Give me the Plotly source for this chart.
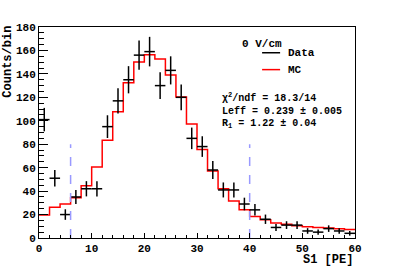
import plotly.graph_objects as go

# ---- data ----
bin_edges = list(range(0, 62, 2))
bin_centers = [e + 1 for e in bin_edges[:-1]]
data_counts = [101, 51, 20, 35, 42, 42, 95, 117, 135, 156, 159, 130, 143, 120, 85,
               78, 58, 41, 41, 29, 24, 16, 9, 11, 11, 6, 5, 8, 6, 4]
data_errors = [10.0, 7.1, 4.5, 5.9, 6.5, 6.5, 9.7, 10.8, 11.6, 12.5, 12.6, 11.4, 12.0, 11.0, 9.2,
               8.8, 7.6, 6.4, 6.4, 5.4, 4.9, 4.0, 3.0, 3.3, 3.3, 2.4, 2.2, 2.8, 2.4, 2.0]
bin_half_width = [1.0] * len(bin_centers)
mc_counts = [19.7, 26.2, 29.0, 34.4, 44.5, 60.6, 83.4, 107.6, 132.4, 150.1, 156.3, 152.7,
             139.0, 120.3, 97.2, 75.5, 57.2, 42.0, 31.5, 24.0, 18.3, 15.5, 12.7, 11.8,
             10.4, 9.6, 9.0, 8.5, 7.9, 7.3]
cut_positions = [6, 40]
cut_height = 80

FONT = "Liberation Mono"

fig = go.Figure()

# MC histogram (step)
fig.add_trace(go.Scatter(
    x=bin_edges, y=mc_counts + [mc_counts[-1]], mode="lines",
    line=dict(color="#ff0000", width=1.5, shape="hv"), showlegend=False))

# Data points with error bars
fig.add_trace(go.Scatter(
    x=bin_centers, y=data_counts, mode="markers",
    marker=dict(size=1, color="black"),
    error_x=dict(type="data", array=bin_half_width, width=0, thickness=1.5, color="black"),
    error_y=dict(type="data", array=data_errors, width=0, thickness=1.5, color="black"),
    showlegend=False))

# cut lines
for c in cut_positions:
    fig.add_trace(go.Scatter(
        x=[c, c], y=[0, cut_height], mode="lines",
        line=dict(color="#9999ff", width=1.5, dash="dash"), showlegend=False))

fig.update_layout(
    width=395, height=267,
    margin=dict(l=39, r=40, t=27, b=27),
    plot_bgcolor="white", paper_bgcolor="white",
    font=dict(family=FONT, size=11, color="black"),
    xaxis=dict(range=[0, 60], showgrid=False, zeroline=False,
               showline=True, linecolor="black", linewidth=1, mirror=True,
               ticks="inside", ticklen=5, tickwidth=1, tickcolor="black",
               dtick=10, tick0=0,
               minor=dict(ticks="inside", ticklen=3, dtick=2, tickcolor="black"),
               tickfont=dict(family=FONT, size=11, weight="bold")),
    yaxis=dict(range=[0, 180], showgrid=False, zeroline=False,
               showline=True, linecolor="black", linewidth=1, mirror=True,
               ticks="inside", ticklen=9, tickwidth=1, tickcolor="black",
               dtick=20, tick0=0,
               minor=dict(ticks="inside", ticklen=5, dtick=5, tickcolor="black"),
               tickfont=dict(family=FONT, size=11, weight="bold")),
)

def ann(text, x, y, xanchor="left", yanchor="middle", size=11, angle=0):
    fig.add_annotation(text=text, x=x, y=y, xref="paper", yref="paper",
                       xanchor=xanchor, yanchor=yanchor, showarrow=False,
                       textangle=angle,
                       font=dict(family=FONT, size=size, weight="bold", color="black"))

ann("S1 [PE]", 1.0, -0.103, xanchor="right", size=12)
ann("Counts/bin", -0.098, 0.836, xanchor="center", size=12, angle=-90)
ann("0 V/cm", 0.636, 0.92, size=11)
ann("Data", 0.782, 0.878, size=11)
ann("MC", 0.782, 0.798, size=11)
ann("χ<sup>2</sup>/ndf = 18.3/14", 0.573, 0.667, size=10)
ann("Leff = 0.239 ± 0.005", 0.573, 0.601, size=10)
ann("R<sub>1</sub> = 1.22 ± 0.04", 0.573, 0.540, size=10)

fig.add_shape(type="line", xref="paper", yref="paper", x0=0.706, x1=0.763,
              y0=0.878, y1=0.878, line=dict(color="black", width=1.5))
fig.add_shape(type="line", xref="paper", yref="paper", x0=0.706, x1=0.763,
              y0=0.798, y1=0.798, line=dict(color="#ff0000", width=1.5))

fig.write_html("out.html",
               config={"displayModeBar": False},
               post_script="document.body.style.margin='0';document.body.style.overflow='hidden';")
